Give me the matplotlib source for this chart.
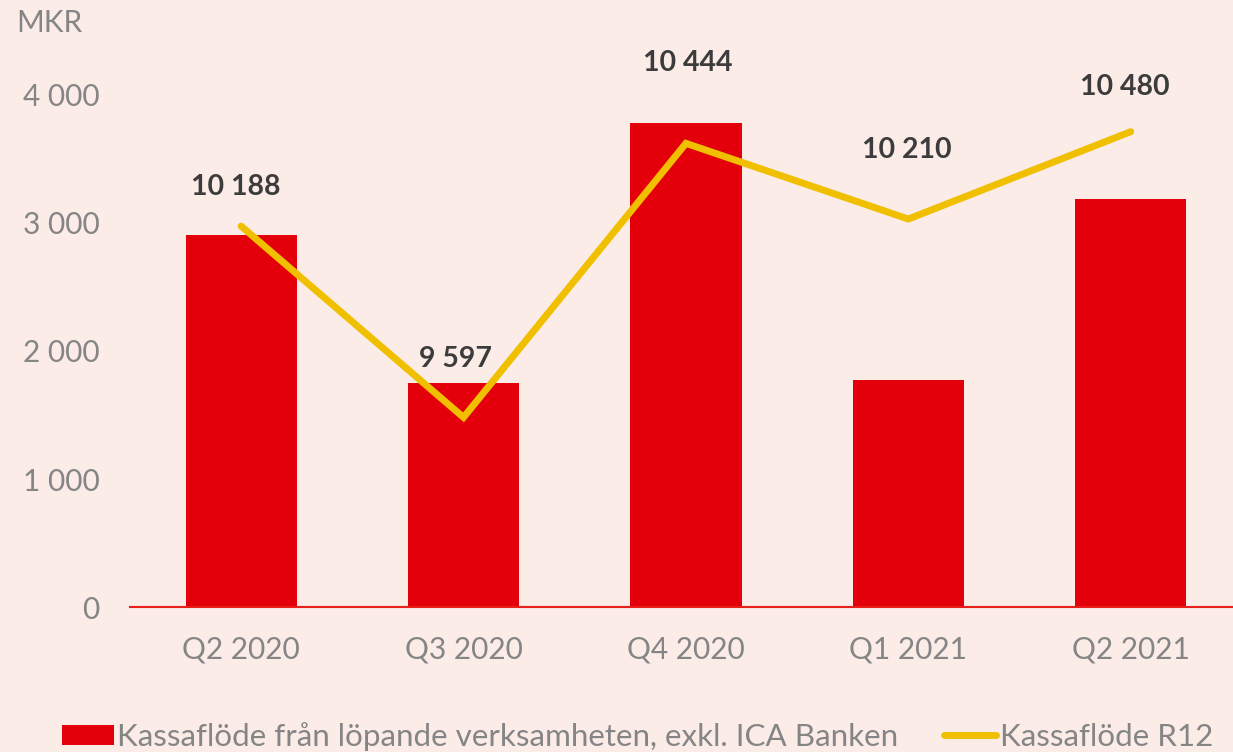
import matplotlib.pyplot as plt
from matplotlib.ticker import FuncFormatter

# data
kvartal = ['Q2 2020', 'Q3 2020', 'Q4 2020', 'Q1 2021', 'Q2 2021']
kassaflode = [2906, 1749, 3774, 1772, 3180]
kassaflode_r12 = [10188, 9597, 10444, 10210, 10480]

bg = '#FBECE8'
rod = '#E3000B'
gul = '#F0C000'
gra = '#858585'
mork = '#3C3C3C'

plt.rcParams['font.family'] = ['Lato', 'DejaVu Sans']

fig = plt.figure(figsize=(12.33, 7.52), dpi=100, facecolor=bg)
ax = fig.add_axes([0.1054, 0.1922, 0.8946, 0.768])
ax.set_facecolor(bg)

x = range(len(kvartal))
bars = ax.bar(x, kassaflode, width=0.5, color=rod, zorder=2,
              label='Kassaflöde från löpande verksamheten, exkl. ICA Banken')
ax.set_xlim(-0.5, 4.46)
ax.set_ylim(0, 4500)
ax.set_yticks([0, 1000, 2000, 3000, 4000])
ax.yaxis.set_major_formatter(FuncFormatter(lambda v, p: f'{int(v):,}'.replace(',', ' ')))
ax.set_xticks(list(x))
ax.set_xticklabels(kvartal)
ax.tick_params(axis='both', length=0, labelsize=21.5, labelcolor=gra)
ax.tick_params(axis='y', pad=22)
ax.tick_params(axis='x', pad=20)
for s in ['top', 'right', 'left']:
    ax.spines[s].set_visible(False)
ax.spines['bottom'].set_color('#E8201A')
ax.spines['bottom'].set_linewidth(1.5)
ax.spines['bottom'].set_zorder(3)

# R12 on hidden second scale
ax2 = ax.twinx()
ax2.set_ylim(9009.5, 10794.5)
ax2.axis('off')
line, = ax2.plot(list(x), kassaflode_r12, color=gul, linewidth=5,
                 solid_capstyle='round', solid_joinstyle='miter', zorder=4,
                 label='Kassaflöde R12')

offsets = [(-4, 28), (-6, 42), (1, 58), (-1, 50), (-4, 32)]
for i, v in enumerate(kassaflode_r12):
    ax2.annotate(f'{v:,}'.replace(',', ' '), (i, v), xytext=offsets[i],
                 textcoords='offset points', ha='center', va='center',
                 fontsize=20.5, fontweight='bold', color=mork)

fig.text(0.013, 0.969, 'MKR', fontsize=21.5, color=gra, ha='left', va='center')

leg = fig.legend(handles=[bars, line], loc='lower center', bbox_to_anchor=(0.517, -0.036),
                 ncol=2, frameon=False, handlelength=1.65, handleheight=0.6,
                 handletextpad=0.12, columnspacing=1.45,
                 prop={'family': ['Lato', 'DejaVu Sans'], 'size': 22.6})
for t in leg.get_texts():
    t.set_color(gra)

fig.savefig('out.png', dpi=100, facecolor=bg)
